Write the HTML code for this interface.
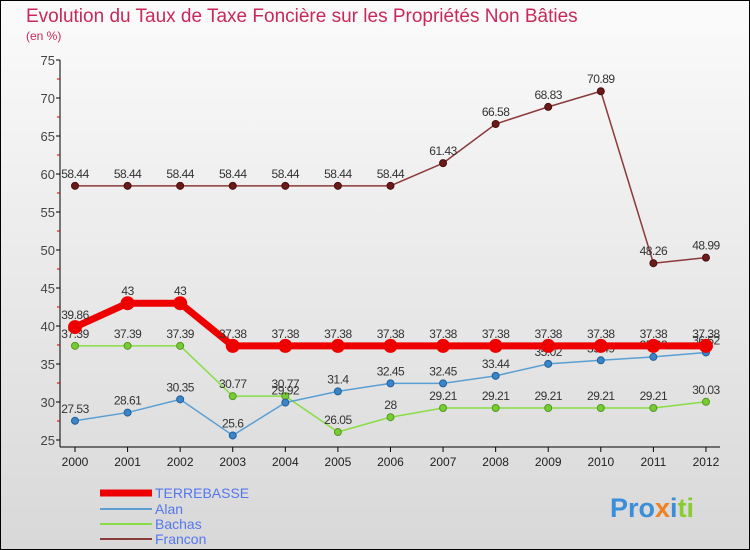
<!DOCTYPE html>
<html><head><meta charset="utf-8"><style>
body{margin:0;width:750px;height:550px;overflow:hidden}
svg{display:block;font-family:"Liberation Sans",sans-serif}
</style></head><body>
<svg id="c" width="750" height="550">
<defs><linearGradient id="bg" x1="0" y1="0" x2="0" y2="1"><stop offset="0" stop-color="#fbfbfb"/><stop offset="1" stop-color="#d8d8d8"/></linearGradient></defs>
<rect x="0.5" y="0.5" width="749" height="549" fill="url(#bg)" stroke="#000"/>
<text x="26" y="22" font-size="19" fill="#c8285a">Evolution du Taux de Taxe Foncière sur les Propriétés Non Bâties</text>
<text x="26" y="40" font-size="12" fill="#c8285a">(en %)</text>
<g id="axes"></g><g id="series"></g>
<g>
<line x1="100" y1="493" x2="152" y2="493" stroke="#e00" stroke-width="7"/>
<text x="155" y="498" font-size="14" fill="#5577ee">TERREBASSE</text>
<line x1="100" y1="509" x2="152" y2="509" stroke="#5a9fd4" stroke-width="2"/>
<text x="155" y="514" font-size="14" fill="#5577ee">Alan</text>
<line x1="100" y1="524" x2="152" y2="524" stroke="#88dd44" stroke-width="2"/>
<text x="155" y="529" font-size="14" fill="#5577ee">Bachas</text>
<line x1="100" y1="539" x2="152" y2="539" stroke="#8b3a3a" stroke-width="2"/>
<text x="155" y="544" font-size="14" fill="#5577ee">Francon</text>
</g>
<text x="610" y="517" font-size="27" font-weight="bold"><tspan fill="#3a8fd8">Pro</tspan><tspan fill="#f08020">x</tspan><tspan fill="#3a8fd8">i</tspan><tspan fill="#88cc33">ti</tspan></text>
</svg>
<script>
const years=[2000,2001,2002,2003,2004,2005,2006,2007,2008,2009,2010,2011,2012];
const terrebasse=[39.86,43,43,37.38,37.38,37.38,37.38,37.38,37.38,37.38,37.38,37.38,37.38];
const alan=[27.53,28.61,30.35,25.6,29.92,31.4,32.45,32.45,33.44,35.02,35.49,35.93,36.52];
const bachas=[37.39,37.39,37.39,30.77,30.77,26.05,28,29.21,29.21,29.21,29.21,29.21,30.03];
const francon=[58.44,58.44,58.44,58.44,58.44,58.44,58.44,61.43,66.58,68.83,70.89,48.26,48.99];
const yTicks=[25,30,35,40,45,50,55,60,65,70,75];
const NS='http://www.w3.org/2000/svg';
const x=i=>75+i*52.58, y=v=>440-(v-25)*7.6;
function mk(t,a,p){const e=document.createElementNS(NS,t);for(const k in a)e.setAttribute(k,a[k]);p.appendChild(e);return e;}
const ax=document.getElementById('axes'),se=document.getElementById('series');
const yl=mk('line',{x1:60,y1:y(75),x2:60,y2:447,stroke:'#000'},ax);


const xl=mk('line',{x1:60,y1:447,x2:720,y2:447,stroke:'#000'},ax);


yTicks.forEach(v=>{
 mk('line',{x1:56,y1:y(v),x2:60,y2:y(v),stroke:'#000'},ax);
 if(v<75)mk('line',{x1:57,y1:y(v+2.5),x2:60,y2:y(v+2.5),stroke:'#c00'},ax);
 const t=mk('text',{x:55,y:y(v)+5,'font-size':13,'text-anchor':'end',fill:'#444'},ax);t.textContent=v;
 
 
});
years.forEach((yr,i)=>{
 mk('line',{x1:x(i),y1:447,x2:x(i),y2:452,stroke:'#000'},ax);
 const t=mk('text',{x:x(i),y:466,'font-size':12,'text-anchor':'middle',fill:'#222'},ax);t.textContent=yr;
 
 
});
function draw(d,name,col,w,r,dot,stroke){
 const g=mk('g',{},se);
 
 
 mk('polyline',{points:d.map((v,i)=>x(i)+','+y(v)).join(' '),fill:'none',stroke:col,'stroke-width':w,'stroke-linejoin':'round'},g);
 d.forEach((v,i)=>{
  const c=mk('circle',{cx:x(i),cy:y(v),r:r,fill:dot,stroke:stroke,'stroke-width':1},g);
  
  
  const t=mk('text',{x:x(i),y:y(v)-8,'font-size':12,'text-anchor':'middle',fill:'#333','letter-spacing':'-0.5'},g);t.textContent=v;
  
  
 });
}
draw(francon,'francon','#8b3a3a',1.5,3.5,'#6b1a1a','#4a0d0d');
draw(bachas,'bachas','#88dd44',1.5,3.5,'#77cc33','#559922');
draw(alan,'alan','#5a9fd4',1.5,3.5,'#3a85c8','#22609a');
draw(terrebasse,'terrebasse','#ee0000',7,6.5,'#ee0000','#ee0000');
</script>
</body></html>
